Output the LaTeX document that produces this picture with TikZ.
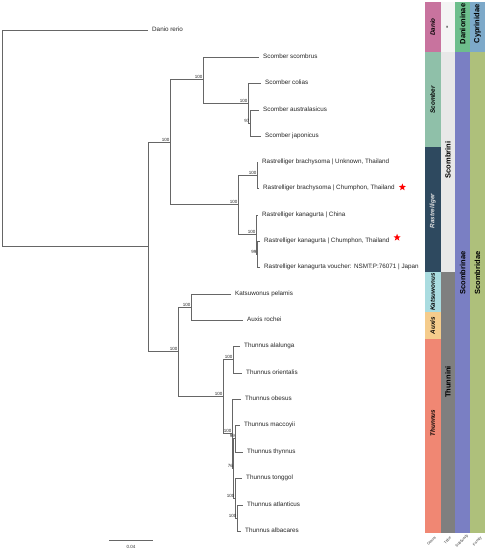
\documentclass[tikz,border=0pt]{standalone}
\usepackage{fontspec}
\setmainfont{Liberation Sans}
\usetikzlibrary{shapes.geometric,calc}
\definecolor{treegray}{HTML}{666666}
\definecolor{cDanio}{HTML}{C8739E}
\definecolor{cScomber}{HTML}{8FC0A9}
\definecolor{cRastr}{HTML}{2E495F}
\definecolor{cKats}{HTML}{AADCE0}
\definecolor{cAuxis}{HTML}{F5CC8C}
\definecolor{cThun}{HTML}{F08773}
\definecolor{cTribeNone}{HTML}{F4F4F4}
\definecolor{cScombrini}{HTML}{E8E8E8}
\definecolor{cThunnini}{HTML}{7F7F7F}
\definecolor{cDanioninae}{HTML}{6DBE8C}
\definecolor{cScombrinae}{HTML}{7A7FC3}
\definecolor{cCyprinidae}{HTML}{7DA9C9}
\definecolor{cScombridae}{HTML}{AEC07B}
\begin{document}
\begin{tikzpicture}[x=1pt,y=-1pt,
  br/.style={draw=treegray, line width=0.7pt},
  tiplab/.style={anchor=west, inner xsep=4pt, inner ysep=0pt, text height=4.6pt, text depth=1.3pt,
    font=\fontsize{6.3}{7}\selectfont, text=black!85},
  bs/.style={anchor=south east, inner sep=0.3pt, font=\fontsize{4.5}{5}\selectfont, text=black!85},
  genus/.style={rotate=90, inner sep=0pt, font=\fontsize{6.3}{7}\selectfont\bfseries\itshape, text=black},
  rank/.style={rotate=90, inner sep=0pt, font=\fontsize{7.5}{8}\selectfont\bfseries, text=black},
  axlab/.style={rotate=45, inner sep=0pt, font=\fontsize{3.7}{4}\selectfont, text=black!80},
  redstar/.style={star, star points=5, star point ratio=2.4, fill=red, draw=none, minimum size=7.5pt, inner sep=0pt}]
\useasboundingbox (0,0) rectangle (486,550);
\fill[white] (0,0) rectangle (486,550);

% ---------- internal nodes ----------
\coordinate (root) at (2.5,138);
\coordinate (nA) at (148,246.5);
\coordinate (nB) at (170,142);
\coordinate (nD) at (203,79.5);
\coordinate (nF) at (248,103);
\coordinate (nG) at (250,123);
\coordinate (nE) at (238,204.5);
\coordinate (nH) at (257,175);
\coordinate (nI) at (256,234.5);
\coordinate (nJ) at (257,254);
\coordinate (nC) at (178,351.5);
\coordinate (nK) at (191,307);
\coordinate (nL) at (223,396);
\coordinate (nM) at (233,359.5);
\coordinate (nN) at (232,433.5);
\coordinate (nS) at (233.5,468);
\coordinate (nP) at (235.5,438.5);
\coordinate (nR) at (235,498);
\coordinate (nQ) at (237,518);

% ---------- tips ----------
\node[tiplab] (dr) at (148,30) {Danio rerio};
\node[tiplab] (ss) at (259,57) {Scomber scombrus};
\node[tiplab] (sc) at (261,83) {Scomber colias};
\node[tiplab] (sa) at (259,110) {Scomber australasicus};
\node[tiplab] (sj) at (261,136) {Scomber japonicus};
\node[tiplab] (rbu) at (258,162) {Rastrelliger brachysoma | Unknown, Thailand};
\node[tiplab] (rbc) at (259,188) {Rastrelliger brachysoma | Chumphon, Thailand};
\node[tiplab] (rkc) at (258,215) {Rastrelliger kanagurta | China};
\node[tiplab] (rkt) at (260,241) {Rastrelliger kanagurta | Chumphon, Thailand};
\node[tiplab] (rkv) at (260,267) {Rastrelliger kanagurta voucher: NSMT:P:76071 | Japan};
\node[tiplab] (kp) at (231,294) {Katsuwonus pelamis};
\node[tiplab] (ar) at (243,320) {Auxis rochei};
\node[tiplab] (tal) at (240,346) {Thunnus alalunga};
\node[tiplab] (tor) at (242,373) {Thunnus orientalis};
\node[tiplab] (tob) at (241,399) {Thunnus obesus};
\node[tiplab] (tma) at (240,425) {Thunnus maccoyii};
\node[tiplab] (tth) at (243,452) {Thunnus thynnus};
\node[tiplab] (tto) at (242,478) {Thunnus tonggol};
\node[tiplab] (tat) at (243,505) {Thunnus atlanticus};
\node[tiplab] (tab) at (241,531) {Thunnus albacares};

\node[redstar, anchor=west] (st1) at ($(rbc.east)+(1,-0.8)$) {};
\node[redstar, anchor=west] (st2) at ($(rkt.east)+(1,-3.5)$) {};

% ---------- branches ----------
\draw[br] (root) |- (dr.west);
\draw[br] (root) |- (nA);
\draw[br] (nA) |- (nB);
\draw[br] (nA) |- (nC);
\draw[br] (nB) |- (nD);
\draw[br] (nB) |- (nE);
\draw[br] (nD) |- (ss.west);
\draw[br] (nD) |- (nF);
\draw[br] (nF) |- (sc.west);
\draw[br] (nF) |- (nG);
\draw[br] (nG) |- (sa.west);
\draw[br] (nG) |- (sj.west);
\draw[br] (nE) |- (nH);
\draw[br] (nE) |- (nI);
\draw[br] (nH) |- (rbu.west);
\draw[br] (nH) |- (rbc.west);
\draw[br] (nI) |- (rkc.west);
\draw[br] (nI) |- (nJ);
\draw[br] (nJ) |- (rkt.west);
\draw[br] (nJ) |- (rkv.west);
\draw[br] (nC) |- (nK);
\draw[br] (nC) |- (nL);
\draw[br] (nK) |- (kp.west);
\draw[br] (nK) |- (ar.west);
\draw[br] (nL) |- (nM);
\draw[br] (nL) |- (nN);
\draw[br] (nM) |- (tal.west);
\draw[br] (nM) |- (tor.west);
\draw[br] (nN) |- (tob.west);
\draw[br] (nN) |- (nS);
\draw[br] (nS) |- (nP);
\draw[br] (nS) |- (nR);
\draw[br] (nP) |- (tma.west);
\draw[br] (nP) |- (tth.west);
\draw[br] (nR) |- (tto.west);
\draw[br] (nR) |- (nQ);
\draw[br] (nQ) |- (tat.west);
\draw[br] (nQ) |- (tab.west);

% ---------- bootstrap values ----------
\node[bs] (bB) at (nB) {100};
\node[bs] (bD) at (nD) {100};
\node[bs] (bF) at (nF) {100};
\node[bs] (bG) at (nG) {97};
\node[bs] (bE) at (nE) {100};
\node[bs] (bH) at (nH) {100};
\node[bs] (bI) at (nI) {100};
\node[bs] (bJ) at (nJ) {99};
\node[bs] (bC) at (nC) {100};
\node[bs] (bK) at (nK) {100};
\node[bs] (bL) at (nL) {100};
\node[bs] (bM) at (nM) {100};
\node[bs] (bN) at (nN) {100};
\node[bs] (bP) at (nP) {99};
\node[bs] (bS) at (nS) {76};
\node[bs] (bR) at (nR) {100};
\node[bs] (bQ) at (nQ) {100};

% ---------- scale bar ----------
\coordinate (sb1) at (109,540);
\coordinate (sb2) at (153,540);
\draw[draw=treegray, line width=0.7pt] (sb1) -- (sb2);
\node[inner sep=0pt, font=\fontsize{4.5}{5}\selectfont, text=black!80] (sbl) at (131,547) {0.04};

% ---------- annotation columns ----------
% genus
\fill[cDanio] (425,2) rectangle (440.5,52);
\fill[cScomber] (425,52) rectangle (440.5,147);
\fill[cRastr] (425,147) rectangle (440.5,272);
\fill[cKats] (425,272) rectangle (440.5,312);
\fill[cAuxis] (425,312) rectangle (440.5,339);
\fill[cThun] (425,339) rectangle (440.5,533);
% tribe
\fill[cTribeNone] (440.5,2) rectangle (455.3,52);
\fill[cScombrini] (440.5,52) rectangle (455.3,272);
\fill[cThunnini] (440.5,272) rectangle (455.3,533);
% subfamily
\fill[cDanioninae] (455.3,2) rectangle (470,52);
\fill[cScombrinae] (455.3,52) rectangle (470,533);
% family
\fill[cCyprinidae] (470,2) rectangle (485,52);
\fill[cScombridae] (470,52) rectangle (485,533);

\node[genus] (gDanio) at (432.7,27) {Danio};
\node[genus] (gScomber) at (432.7,100) {Scomber};
\node[genus, text=white!88!black] (gRastr) at (432.7,211) {Rastrelliger};
\node[genus] (gKats) at (432.7,292) {Katsuwonus};
\node[genus] (gAuxis) at (432.7,325.5) {Auxis};
\node[genus] (gThun) at (432.7,423) {Thunnus};

\node[rank] (tNone) at (447.9,27) {-};
\node[rank] (tScombrini) at (447.9,160) {Scombrini};
\node[rank] (tThunnini) at (447.9,382) {Thunnini};

\node[rank] (sDanioninae) at (462.6,24) {Danioninae};
\node[rank] (sScombrinae) at (462.6,273) {Scombrinae};

\node[rank] (fCyprinidae) at (477.5,24) {Cyprinidae};
\node[rank] (fScombridae) at (477.5,273) {Scombridae};

\node[axlab] (aGenus) at (431.5,541) {Genus};
\node[axlab] (aTribe) at (447.5,540.5) {Tribe};
\node[axlab] (aSub) at (462,541) {Subfamily};
\node[axlab] (aFam) at (477.5,541.5) {Family};
\end{tikzpicture}
\end{document}
